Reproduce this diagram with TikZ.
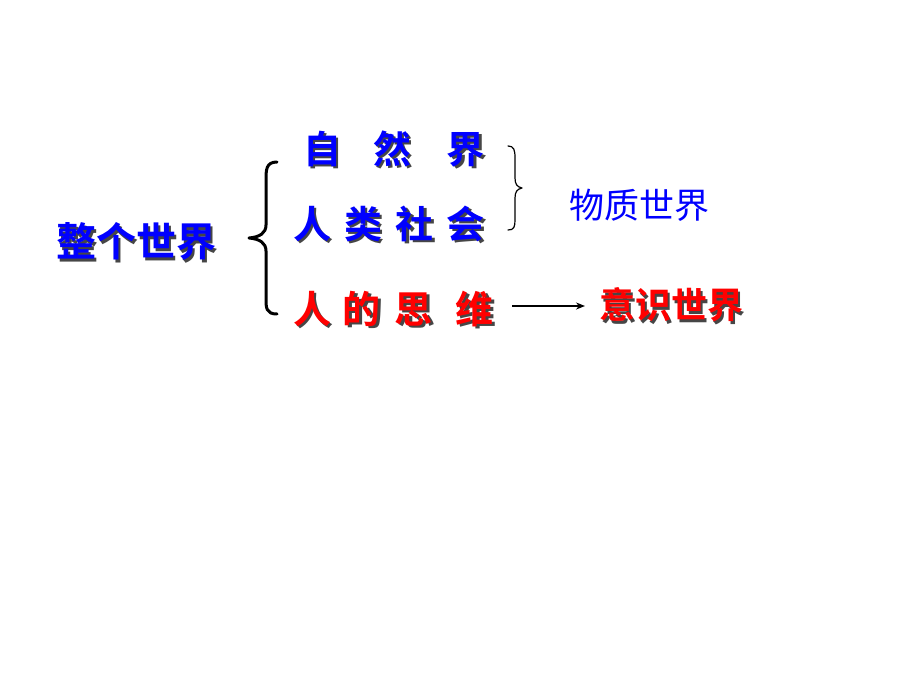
\documentclass[tikz,border=0pt]{standalone}
\usepackage{fontspec}
\newfontfamily\cjkb{Noto Sans CJK SC Bold}
\newfontfamily\cjk{Noto Sans CJK SC}
\usetikzlibrary{arrows.meta}
\definecolor{shadowgray}{RGB}{70,70,70}
\definecolor{pblue}{RGB}{0,0,255}
\definecolor{pred}{RGB}{255,0,0}
\newcommand{\shtxt}[2]{\makebox[0pt][l]{\kern2.5pt\raisebox{-2.5pt}{\color{shadowgray}#2}}{\color{#1}#2}}
\tikzset{
  lbl/.style={inner sep=0pt, outer sep=0pt, anchor=west},
  bracepath/.style={draw=black, line cap=round, line join=round},
}
\begin{document}
\begin{tikzpicture}[x=1pt,y=-1pt]
\useasboundingbox[fill=white] (0,0) rectangle (920,690);
% texts
\node[lbl] (world) at (56,243) {\cjkb\fontsize{40}{48}\selectfont\shtxt{pblue}{整个世界}};
\node[lbl] (nature) at (303,150) {\cjkb\fontsize{38}{46}\selectfont\shtxt{pblue}{自\hspace{32pt}然\hspace{36pt}界}};
\node[lbl] (society) at (293,225) {\cjkb\fontsize{38}{46}\selectfont\shtxt{pblue}{人\hspace{13pt}类\hspace{14pt}社\hspace{13pt}会}};
\node[lbl] (mind) at (293,310) {\cjkb\fontsize{38}{46}\selectfont\shtxt{pred}{人\hspace{12pt}的\hspace{14pt}思\hspace{23pt}维}};
\node[lbl] (matter) at (569,205) {\cjk\fontsize{35}{42}\selectfont\color{pblue}物质世界};
\node[lbl] (yishi) at (599,306) {\cjkb\fontsize{36}{44}\selectfont\shtxt{pred}{意识世界}};
% left brace
\draw[bracepath, line width=3pt] (277,162) .. controls (266,162) and (266,170) .. (266,180) -- (266,225) .. controls (266,233) and (260,237) .. (249,238) .. controls (260,239) and (266,243) .. (266,251) -- (266,298) .. controls (266,308) and (266,314) .. (277,314);
% right brace
\draw[bracepath, line width=1.2pt] (508,146) .. controls (514,146) and (515,150) .. (515,158) -- (515,178) .. controls (515,184) and (517,187) .. (522,188) .. controls (517,189) and (515,192) .. (515,198) -- (515,220) .. controls (515,227) and (514,230) .. (508,230);
% arrow
\draw[line width=1.5pt, -{Stealth[length=9pt,width=7pt]}, shorten <=18pt, shorten >=14pt] (mind.east |- 0,306) -- (yishi.west |- 0,306);
\end{tikzpicture}
\end{document}
